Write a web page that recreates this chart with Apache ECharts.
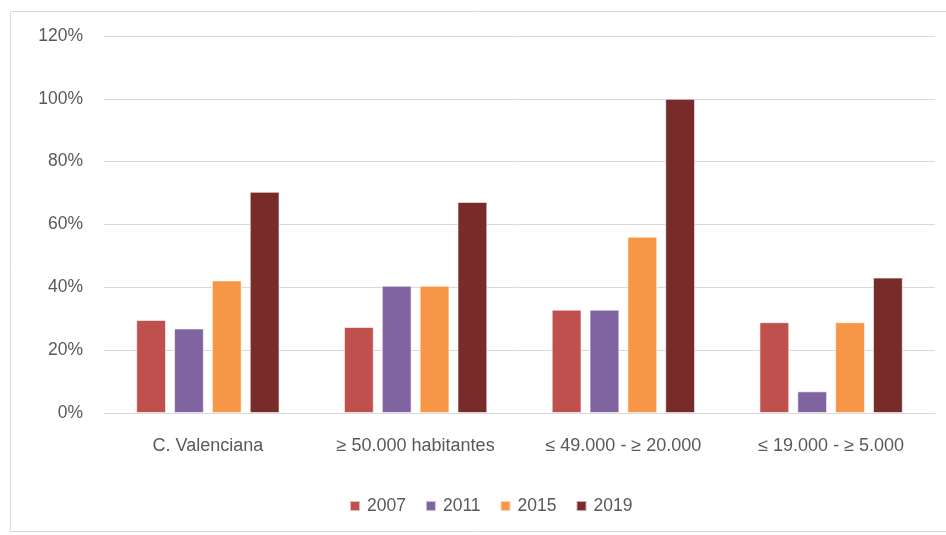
<!DOCTYPE html>
<html>
<head>
<meta charset="utf-8">
<script src="https://cdn.jsdelivr.net/npm/echarts@6/dist/echarts.min.js"></script>
<style>
html,body{margin:0;padding:0;background:#fff;}
#chart{width:946px;height:535px;}
</style>
</head>
<body>
<div id="chart"></div>
<script>
const categories = ['C. Valenciana', '\u2265 50.000 habitantes', '\u2264 49.000 - \u2265 20.000', '\u2264 19.000 - \u2265 5.000'];
const seriesNames = ['2007', '2011', '2015', '2019'];
const values2007 = [29.6, 27.4, 32.9, 28.9];
const values2011 = [26.9, 40.5, 32.9, 6.9];
const values2015 = [42.2, 40.5, 56.1, 28.9];
const values2019 = [70.4, 67.2, 100, 43.1];
const yTicks = [0, 20, 40, 60, 80, 100, 120];
const colors = ['#C0504D', '#8064A2', '#F79646', '#772C2A'];

const allValues = [values2007, values2011, values2015, values2019];
const fontFamily = '"Liberation Sans", Arial, sans-serif';

const chart = echarts.init(document.getElementById('chart'));
chart.setOption({
  animation: false,
  graphic: [{
    type: 'rect',
    shape: {x: 10.5, y: 11.5, width: 940, height: 520},
    style: {fill: 'none', stroke: '#d9d9d9', lineWidth: 1},
    silent: true
  }],
  color: colors,
  grid: {left: 104, right: 11, top: 36, bottom: 122, containLabel: false},
  legend: {
    data: seriesNames,
    top: 492,
    left: 344,
    itemWidth: 10,
    itemHeight: 10,
    itemGap: 19,
    icon: 'rect',
    textStyle: {color: '#595959', fontSize: 17.5, fontFamily: fontFamily, padding: [0, 0, 0, 2]}
  },
  xAxis: {
    type: 'category',
    data: categories,
    axisLine: {show: true, lineStyle: {color: '#d9d9d9', width: 1}},
    axisTick: {show: false},
    axisLabel: {color: '#595959', fontSize: 18, fontFamily: fontFamily, margin: 24}
  },
  yAxis: {
    type: 'value',
    min: yTicks[0],
    max: yTicks[yTicks.length - 1],
    interval: 20,
    axisLine: {show: false},
    axisTick: {show: false},
    splitLine: {lineStyle: {color: '#d9d9d9', width: 1}},
    axisLabel: {color: '#595959', fontSize: 17.5, fontFamily: fontFamily, margin: 21, formatter: v => v + '%'}
  },
  series: seriesNames.map((name, i) => ({
    name: name,
    type: 'bar',
    data: allValues[i],
    barGap: '27%',
    barCategoryGap: '31%',
    itemStyle: {color: colors[i], borderColor: 'rgba(255,255,255,0.6)', borderWidth: 1}
  }))
});
</script>
</body>
</html>
